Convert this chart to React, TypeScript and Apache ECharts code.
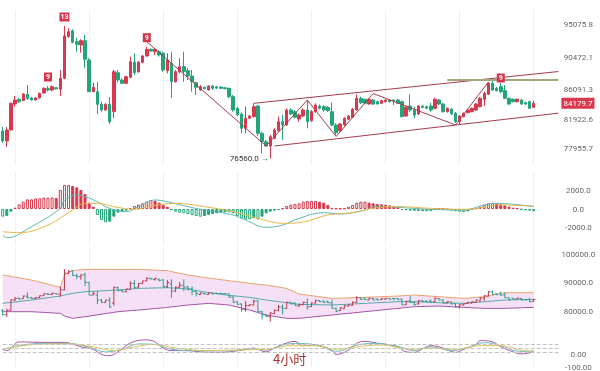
import React, { useEffect, useRef } from 'react';
import * as echarts from 'echarts';

const SLOT_COUNT = 136;
const categories = Array.from({ length: SLOT_COUNT }, (_, i) => String(i));

const opens = [80344,78964,80482,84072,84720,84530,85410,84900,84624,84900,85590,86185,86005,86320,86101,87620,93363,94191,92673,92217,92811,90146,85770,85770,84030,83243,84030,83008,88393,87385,86930,87758,89829,88531,89829,90699,91624,91292,91292,91071,88669,89691,87150,88531,89222,88669,87938,87012,86005,86378,86005,86557,86460,86419,86320,86240,85079,83478,82691,80717,82097,82318,83796,80027,78867,78273,79336,80385,81628,81173,83243,83008,82001,82415,83243,81766,83008,83796,83699,83616,83008,81173,80385,81173,81960,82236,83243,84859,84720,84072,84624,84390,84169,84390,84624,84624,84624,84390,82415,83796,83243,82691,83796,83699,83796,83478,84624,84072,83008,83340,82788,81628,82318,82871,83008,83243,83699,84721,85411,86930,86240,86460,85908,84859,84721,84390,84624,84251,84390,83616];
const closes = [78964,80482,84169,84624,84390,85452,84860,84624,84900,85550,86240,86005,86460,86185,87620,93460,94053,92590,92314,92811,90243,85770,86378,84030,83243,84030,81628,88531,87385,86930,87841,89912,88393,89829,90699,91624,91389,91624,90837,88766,90146,87150,88531,89222,88531,87938,87150,86378,86460,86185,86557,86240,86281,86240,86185,85079,83243,82553,80717,82097,82415,83699,80027,78867,78273,79557,80482,81628,81173,83243,82691,82236,82553,83243,81628,83008,83934,83478,83243,83146,81173,80109,81311,82097,82415,83340,84859,84251,84169,84720,84072,84072,84527,84624,84390,84486,84169,82318,83616,83243,82553,83796,83616,83478,83243,84721,84072,83008,83478,82691,81628,82415,82788,83243,83478,84072,84859,85549,86930,86005,85908,85770,84859,84072,84390,84721,84072,84072,83478,84179.7];
const lows = [78688,78135,80400,83700,84210,84486,84624,84555,84555,84830,85520,85798,85825,86074,85176,87482,93253,92452,91292,91154,89000,85770,85729,82691,83012,83150,81311,82097,87067,86840,86833,87620,88075,88393,89691,90602,91251,90837,90602,88531,88310,84859,87012,88310,87150,87385,85770,85314,85908,86101,85936,86005,86143,86143,86101,84859,83008,82415,80027,80027,82001,82236,79654,77264,78135,76560,79198,80247,79102,81035,82553,82097,81628,82277,80717,81628,82898,83312,83008,82967,81035,79792,80247,81035,81863,82139,83150,84072,84072,84003,83934,84003,84072,84279,84279,83934,84072,82277,82277,83008,82097,82553,83478,83382,83008,83340,83934,82898,82898,82553,81449,81173,82236,82788,82926,83105,83589,83796,85314,85908,85798,85549,84762,83934,84279,84279,83976,83934,83382,83520];
const highs = [80897,80897,84250,85176,84900,85590,86695,85038,85038,85660,86350,86557,86625,86419,88766,94840,94523,94385,93184,93004,93598,90423,87012,87150,84390,84169,85038,88766,88766,87620,87938,90602,91071,90008,90837,91983,91762,91762,91527,91292,91071,91292,88766,90381,91292,89000,88766,87150,86695,86488,86654,86695,86557,86488,86419,86320,85314,83699,82871,83699,82553,84169,83934,80247,79102,79792,80717,82318,82553,83478,83478,83243,82788,83478,84624,83243,84169,84003,83934,83796,84251,81408,81449,82277,82553,83520,85411,85079,84831,84831,84762,84555,84624,84720,84693,84693,84762,84555,83796,85411,83699,83934,83934,83865,84210,84969,84762,84210,83589,83520,82967,82553,82898,83382,83589,84210,85038,85770,87109,87385,86419,86971,86695,84969,84831,84831,84762,84390,84527,84527];

const macdHist = [-840,-760,-290,145,510,800,1055,1055,1165,1165,1240,1240,1270,1200,2075,2620,2620,2510,2366,2075,1640,690,255,-655,-1200,-1456,-1380,-840,-400,-290,-180,110,330,475,620,800,980,910,690,440,255,-110,-290,-400,-470,-545,-655,-765,-840,-765,-655,-545,-470,-400,-365,-365,-470,-765,-1020,-1130,-1130,-1020,-1130,-840,-470,-290,-180,-110,60,330,480,550,620,800,875,875,875,800,690,440,70,60,50,60,255,440,690,800,800,690,620,545,510,475,400,330,255,-110,-150,-180,-200,-220,-250,-255,-220,50,60,40,-50,-180,-250,-300,-330,-260,-70,70,255,440,620,690,620,510,400,255,145,70,-70,-145,-180,-255];
const difPoints = [[0,-2842],[1,-3133],[7,-1931],[14,73],[15,984],[18,1530],[20,1348],[23,801],[25,255],[28,-182],[30,-291],[33,255],[37,984],[40,801],[45,255],[49,-109],[56,-656],[59,-1202],[64,-2004],[68,-1749],[72,-1020],[78,-401],[82,-546],[88,-109],[91,328],[96,182],[104,-36],[112,-109],[117,437],[120,619],[129,255]];
const deaPoints = [[0,-2477],[4,-2587],[11,-1749],[17,-109],[20,619],[23,619],[27,255],[32,-36],[36,328],[42,619],[49,255],[56,-291],[62,-1020],[68,-1566],[72,-1494],[79,-656],[85,-401],[91,146],[96,255],[104,73],[112,-36],[117,182],[120,437],[129,328]];

const bollIdx = [0,7,14,15,17,20,28,33,40,45,50,55,60,64,69,72,80,88,96,100,106,112,117,122,129];
const bollUpper = [92771,91030,88475,92771,94280,94745,94745,94745,94280,92771,91726,90797,89869,89288,88127,86153,84644,84992,85457,85805,85225,84644,85225,86618,86618];
const bollMid = [82903,84064,85457,85805,86386,86966,87547,88127,88359,87895,86618,85689,84992,84064,83135,82554,82322,82903,83483,83483,83135,82903,83483,84064,84296];
const bollLower = [80000,80000,79420,78491,77678,78259,80000,80581,81509,82322,82903,82322,80581,78839,77678,77678,78839,80000,81161,81742,81974,81509,81161,81161,81509];

const jPoints = [[0,40],[1,30],[4,99],[10,95],[15,95],[19,60],[22,40],[24,0],[26,-10],[28,20],[30,69],[32,103],[35,115],[37,99],[39,50],[41,30],[45,30],[48,20],[52,16],[55,20],[59,40],[61,50],[62,40],[64,20],[66,50],[68,79],[71,103],[73,69],[76,75],[78,60],[80,30],[81,0],[83,16],[85,60],[86,89],[88,103],[91,89],[94,75],[96,60],[98,20],[100,16],[102,44],[104,69],[107,50],[110,16],[112,40],[115,79],[116,109],[119,99],[121,60],[124,20],[126,4],[129,20]];
const kPoints = [[0,40],[5,75],[10,87],[16,87],[21,56],[25,20],[29,40],[33,83],[37,79],[41,40],[48,28],[56,28],[61,44],[64,34],[68,75],[72,87],[77,69],[81,24],[86,73],[90,87],[96,63],[100,30],[104,60],[109,30],[113,56],[117,93],[121,69],[125,26],[129,20]];
const dPoints = [[0,40],[8,79],[16,83],[22,60],[27,30],[32,60],[37,79],[42,50],[50,30],[58,36],[64,40],[70,69],[76,69],[81,40],[86,60],[92,75],[99,40],[104,50],[110,40],[116,69],[121,69],[127,30],[129,30]];

const zigzag = [[35,92673],[64,78273],[74,84624],[81,79585],[90,85521],[110,81173],[118,87109]];
const channelUpper = [[61,84168],[135,88555]];
const channelLower = [[66,78273],[135,82811]];
const resistance = [[108,87385],[135,87385]];
const tdMarks = [{ idx: 11, text: '9' }, { idx: 15, text: '13' }, { idx: 35, text: '9' }, { idx: 121, text: '9' }];

const mainTicks = [77955.7, 81922.6, 86091.3, 90472.1, 95075.8];
const macdTicks = [-2000, 0, 2000];
const bollTicks = [80000, 90000, 100000];
const kdjTicks = [-100, 0];
const kdjLevels = [20, 50, 80];
const lastPrice = 84179.7;
const lowIdx = 65;
const lowPrice = 76560;

const RED = '#d8394e';
const GREEN = '#22a57a';
const LINE = '#a53b4e';
const FONT = 'Roboto';

export default function App() {
  const ref = useRef<HTMLDivElement>(null);
  useEffect(() => {
    if (!ref.current) return;
    const chart = echarts.init(ref.current, undefined, { renderer: 'svg' });
    const candles = opens.map((o, i) => [o, closes[i], lows[i], highs[i]]);
    const gridBase = { left: 2.7, right: 41.6 };
    const xAxisFor = (g: number) => ({
      type: 'category', gridIndex: g, data: categories, boundaryGap: false,
      axisLine: { show: false }, axisTick: { show: false }, axisLabel: { show: false },
      splitLine: { show: true, interval: (i: number) => i % 18 === 3, lineStyle: { color: '#efefef', width: 1 } },
    });
    const yAxisFor = (g: number, min: number, max: number, ticks: number[], digits: number) => ({
      type: 'value', gridIndex: g, position: 'right', min, max,
      axisLine: { show: false }, axisTick: { show: false }, splitLine: { show: false },
      axisLabel: {
        show: true, customValues: ticks, align: 'center', margin: 20,
        fontSize: 8, color: '#666', fontFamily: FONT,
        formatter: (v: number) => Number(v).toFixed(digits),
      },
    });
    const macdData = macdHist.map((v, i) => {
      const prev = i > 0 ? macdHist[i - 1] : 0;
      const c = v >= 0 ? RED : GREEN;
      const hollow = Math.sign(v) !== Math.sign(prev) || Math.abs(v) >= Math.abs(prev);
      return { value: v, itemStyle: hollow ? { color: '#ffffff', borderColor: c, borderWidth: 1 } : { color: c, borderColor: c, borderWidth: 1 } };
    });
    const lineS = (data: any, color: string, xi: number, width = 1, smooth: any = false) => ({
      type: 'line', xAxisIndex: xi, yAxisIndex: xi, data, symbol: 'none', smooth,
      lineStyle: { color, width }, silent: true, z: 3,
    });
    const option: any = {
      animation: false,
      grid: [
        { ...gridBase, top: 10, height: 155 },
        { ...gridBase, top: 172, height: 74 },
        { ...gridBase, top: 248, height: 87 },
        { ...gridBase, top: 337, height: 34 },
      ],
      xAxis: [xAxisFor(0), xAxisFor(1), xAxisFor(2), xAxisFor(3)],
      yAxis: [
        yAxisFor(0, 75650, 97049, mainTicks, 1),
        yAxisFor(1, -4044, 4044, macdTicks, 1),
        yAxisFor(2, 71880, 102190, bollTicks, 1),
        yAxisFor(3, -100, 137.8, kdjTicks, 2),
      ],
      graphic: [
        { type: 'text', left: 273, top: 352, style: { text: '4小时', fontSize: 13, fill: '#a8322d', fontFamily: 'Noto Sans CJK SC' }, z: 100 },
      ],
      series: [
        {
          type: 'candlestick', xAxisIndex: 0, yAxisIndex: 0, data: candles, barWidth: 3, clip: false,
          itemStyle: { color: RED, color0: GREEN, borderColor: RED, borderColor0: GREEN, borderWidth: 1 },
          markPoint: {
            silent: true, animation: false,
            data: [
              ...tdMarks.map((m) => ({
                coord: [m.idx, highs[m.idx]], value: m.text, symbol: 'rect',
                symbolSize: m.text.length > 1 ? [10, 9] : [8, 9],
                symbolOffset: [0, m.idx === 121 ? -5 : -9],
                itemStyle: { color: '#d7354a' },
                label: { show: true, color: '#fff', fontSize: 7, fontWeight: 'bold', fontFamily: FONT, formatter: m.text },
              })),
              {
                coord: [lowIdx, lowPrice], value: lowPrice, symbol: 'circle', symbolSize: 1,
                itemStyle: { color: 'rgba(0,0,0,0)' },
                label: { show: true, position: 'left', distance: 1, color: '#333', fontSize: 8, fontFamily: FONT, formatter: lowPrice.toFixed(1) + ' →' },
              },
            ],
          },
          markLine: {
            silent: true, symbol: 'none', animation: false,
            lineStyle: { color: 'rgba(0,0,0,0)', width: 0 },
            data: [{ yAxis: lastPrice }],
            label: { show: true, position: 'end', distance: 3, formatter: lastPrice.toFixed(1), color: '#fff', backgroundColor: RED, padding: [2, 2, 1, 2], fontSize: 8, fontFamily: FONT },
          },
        },
        lineS(zigzag, LINE, 0),
        lineS(channelUpper, LINE, 0),
        lineS(channelLower, LINE, 0),
        lineS(resistance, '#a3a67e', 0, 2),
        {
          type: 'bar', xAxisIndex: 1, yAxisIndex: 1, data: macdData, barWidth: 3, silent: true,
        },
        lineS(difPoints, '#5fb8b2', 1, 1, 0.4),
        lineS(deaPoints, '#e8b64c', 1, 1, 0.4),
        {
          type: 'custom', xAxisIndex: 2, yAxisIndex: 2, silent: true, z: 1,
          data: [[0, bollMid[0]]], encode: { x: 0, y: 1 },
          renderItem: (params: any, api: any) => {
            if (params.dataIndex !== 0) return null;
            const pts: number[][] = [];
            bollIdx.forEach((ix, k) => pts.push(api.coord([ix, bollUpper[k]])));
            for (let k = bollIdx.length - 1; k >= 0; k--) pts.push(api.coord([bollIdx[k], bollLower[k]]));
            return { type: 'polygon', shape: { points: pts }, style: { fill: '#f6e0f6' } };
          },
        },
        lineS(bollIdx.map((ix, k) => [ix, bollUpper[k]]), '#e8a46c', 2),
        lineS(bollIdx.map((ix, k) => [ix, bollMid[k]]), '#55a9ad', 2),
        lineS(bollIdx.map((ix, k) => [ix, bollLower[k]]), '#a257a8', 2),
        {
          type: 'custom', xAxisIndex: 2, yAxisIndex: 2, silent: true, z: 4,
          data: opens.map((o, i) => [i, o, closes[i], lows[i], highs[i]]),
          encode: { x: 0, y: [1, 2, 3, 4] },
          renderItem: (params: any, api: any) => {
            const i = api.value(0);
            const o = api.value(1), c = api.value(2), l = api.value(3), h = api.value(4);
            const pO = api.coord([i, o]), pC = api.coord([i, c]), pL = api.coord([i, l]), pH = api.coord([i, h]);
            const color = c >= o ? '#b8394b' : '#2b9c86';
            const x = pO[0];
            return {
              type: 'group', children: [
                { type: 'line', shape: { x1: x, y1: pH[1], x2: x, y2: pL[1] }, style: { stroke: color, lineWidth: 1 } },
                { type: 'line', shape: { x1: x - 1.8, y1: pO[1], x2: x, y2: pO[1] }, style: { stroke: color, lineWidth: 1 } },
                { type: 'line', shape: { x1: x, y1: pC[1], x2: x + 1.8, y2: pC[1] }, style: { stroke: color, lineWidth: 1 } },
              ],
            };
          },
        },
        {
          ...lineS(jPoints, '#a457a8', 3, 1, 0.4),
          markLine: {
            silent: true, symbol: 'none', animation: false,
            lineStyle: { type: 'dashed', color: '#c4c4c4', width: 1 },
            label: { show: false },
            data: kdjLevels.map((v) => ({ yAxis: v })),
          },
        },
        lineS(kPoints, '#6bbfb9', 3, 1, 0.4),
        lineS(dPoints, '#e3c05a', 3, 1, 0.4),
      ],
    };
    chart.setOption(option);
    return () => chart.dispose();
  }, []);
  return <div ref={ref} style={{ position: 'fixed', left: 0, top: 0, width: 600, height: 371 }} />;
}
